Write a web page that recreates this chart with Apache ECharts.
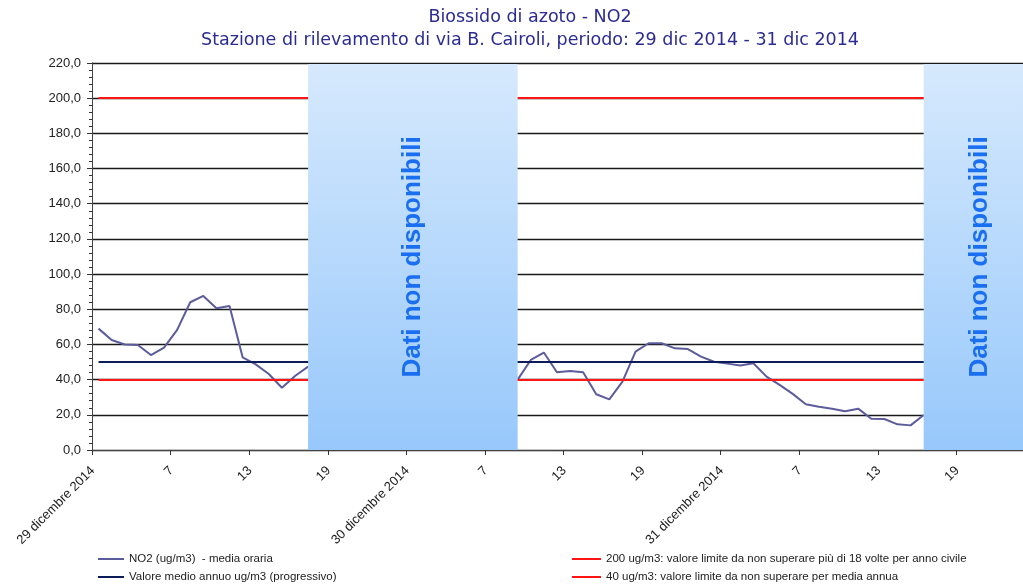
<!DOCTYPE html>
<html><head><meta charset="utf-8">
<script src="https://cdn.jsdelivr.net/npm/echarts@6/dist/echarts.min.js"></script>
<style>html,body{margin:0;padding:0;background:#fff}#c{width:1023px;height:587px}</style>
</head><body><div id="c"></div>
<script>
const titleLines = ['Biossido di azoto - NO2', 'Stazione di rilevamento di via B. Cairoli, periodo: 29 dic 2014 - 31 dic 2014'];
const dayLabels = ['29 dicembre 2014', '30 dicembre 2014', '31 dicembre 2014'];
const hourLabels = ['1','2','3','4','5','6','7','8','9','10','11','12','13','14','15','16','17','18','19','20','21','22','23','24'];
const yTicks = [0, 20, 40, 60, 80, 100, 120, 140, 160, 180, 200, 220];

// NO2 hourly means (ug/m3); null = dato non disponibile
const no2 = [
  69.0, 62.5, 60.0, 59.7, 54.0, 58.2, 68.3, 84.0, 87.6, 80.6, 81.9, 52.7, 48.7, 43.2, 35.4, 42.1, 47.4,
  null, null, null, null, null, null, null, null, null, null, null, null, null, null, null,
  40.0, 51.2, 55.4, 44.2, 44.9, 44.2, 31.7, 28.8, 38.9, 55.9, 60.7, 60.7, 57.8, 57.4, 53.1, 50.2,
  49.1, 48.0, 49.3, 41.7, 37.0, 31.9, 26.0, 24.6, 23.5, 22.0, 23.5, 17.8, 17.6, 14.6, 14.0, 19.9,
  null, null, null, null, null, null, null, null
];
const mediaAnnua = 50;
const limiteOrario = 200;
const limiteAnnuo = 40;
// gaps: [first category index, last category index]
const gaps = [[16, 32], [63, 71]];

const seriesNames = [
  'NO2 (ug/m3)  - media oraria',
  'Valore medio annuo ug/m3 (progressivo)',
  '200 ug/m3: valore limite da non superare più di 18 volte per anno civile',
  '40 ug/m3: valore limite da non superare per media annua'
];

const categories = [];
dayLabels.forEach(d => hourLabels.forEach((h, i) => categories.push(i === 0 ? d : h)));
const lastIdx = categories.length - 1;
const yMin = yTicks[0], yMax = yTicks[yTicks.length - 1];

const chart = echarts.init(document.getElementById('c'), null, {renderer: 'canvas'});
const font = '"Liberation Sans", Arial, sans-serif';

function hLine(v) { return [[{xAxis: 0, yAxis: v}, {xAxis: lastIdx, yAxis: v}]]; }
function leg(name, left, top, w) {
  return {data: [name], orient: 'horizontal', left: left, top: top, padding: 0,
    icon: 'rect', itemWidth: w, itemHeight: 2, textStyle: {fontFamily: font, fontSize: 11.5, color: '#222'}};
}

chart.setOption({
  animation: false,
  backgroundColor: '#ffffff',
  title: {
    text: titleLines.join('\n'),
    left: 525, top: 1, textAlign: 'center',
    textStyle: {fontFamily: '"DejaVu Sans", Verdana, sans-serif', fontSize: 17.5, fontWeight: 'normal', color: '#2b2b92', lineHeight: 23}
  },
  grid: {left: 92, top: 63, width: 943, bottom: 137, containLabel: false, outerBoundsMode: 'none'},
  legend: [
    leg(seriesNames[0], 98, 553, 26),
    leg(seriesNames[1], 98, 571, 26),
    leg(seriesNames[2], 572, 553, 29),
    leg(seriesNames[3], 572, 571, 29)
  ],
  xAxis: {
    type: 'category', data: categories, boundaryGap: true,
    axisLine: {show: true, lineStyle: {color: '#444', width: 1}},
    axisTick: {show: true, interval: 5, length: 5, lineStyle: {color: '#333'}},
    axisLabel: {interval: 5, rotate: 45, fontFamily: font, fontSize: 13, color: '#222', margin: 13, padding: [0, 8, 0, 0]},
    splitLine: {show: false}
  },
  yAxis: {
    type: 'value', min: yMin, max: yMax, interval: 20,
    axisLine: {show: true, lineStyle: {color: '#444', width: 1}},
    axisTick: {show: true, length: 5, lineStyle: {color: '#333'}},
    minorTick: {show: true, splitNumber: 5, length: 3, lineStyle: {color: '#333'}},
    axisLabel: {fontFamily: font, fontSize: 13, color: '#222', margin: 11,
      formatter: v => v.toFixed(1).replace('.', ',')},
    splitLine: {show: true, lineStyle: {color: '#1a1a1a', width: 1.3}}
  },
  series: [
    {name: seriesNames[0], type: 'line', data: no2, showSymbol: false, connectNulls: false,
     color: '#5c5c9c', lineStyle: {width: 2, color: '#5c5c9c'}, z: 4},
    {name: seriesNames[1], type: 'line', data: [], color: '#0c1c58', z: 3,
     markLine: {silent: true, symbol: 'none', label: {show: false}, lineStyle: {color: '#0c1c58', width: 2, type: 'solid'}, data: hLine(mediaAnnua)}},
    {name: seriesNames[2], type: 'line', data: [], color: '#ff1414', z: 3,
     markLine: {silent: true, symbol: 'none', label: {show: false}, lineStyle: {color: '#ff1414', width: 2, type: 'solid'}, data: hLine(limiteOrario)}},
    {name: seriesNames[3], type: 'line', data: [], color: '#ff1414', z: 3,
     markLine: {silent: true, symbol: 'none', label: {show: false}, lineStyle: {color: '#ff1414', width: 2, type: 'solid'}, data: hLine(limiteAnnuo)}},
    {name: 'gaps', type: 'custom', data: gaps, z: 10, silent: true,
     renderItem: function (params, api) {
       const s = api.value(0), e = api.value(1);
       const cs = params.coordSys;
       const top = api.coord([s, yMax])[1] + 1;
       const bottom = api.coord([s, yMin])[1];
       const x1 = api.coord([s, yMin])[0];
       let x2 = api.coord([e, yMin])[0];
       if (e >= lastIdx) x2 = cs.x + cs.width;
       return {type: 'group', children: [
         {type: 'rect', shape: {x: x1, y: top, width: x2 - x1, height: bottom - top},
          style: {fill: new echarts.graphic.LinearGradient(0, 0, 0, 1, [{offset: 0, color: '#d6e9fd'}, {offset: 1, color: '#97c8fb'}])}},
         {type: 'text', x: (x1 + x2) / 2, y: (top + bottom) / 2, rotation: Math.PI / 2,
          style: {text: 'Dati non disponibili', fill: '#1a6ef0', font: 'bold 26px "Liberation Sans", Arial, sans-serif', align: 'center', verticalAlign: 'middle'}}
       ]};
     }}
  ]
});
</script>
</body></html>
